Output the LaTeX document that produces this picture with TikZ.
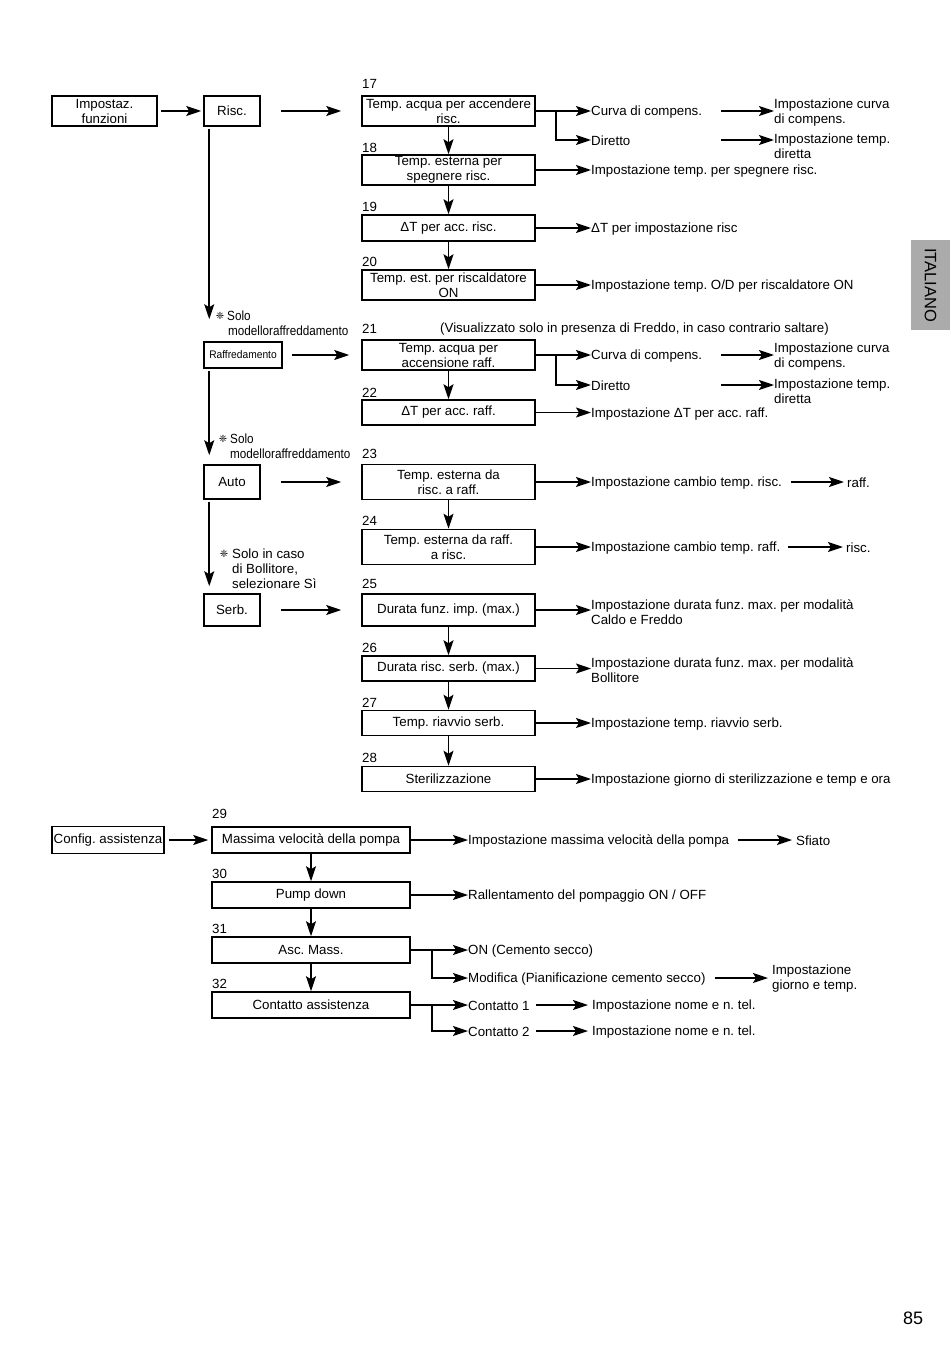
\documentclass[tikz,border=0pt]{standalone}
\usepackage{fontspec}
\setmainfont{Liberation Sans}
\newfontfamily\dejavu{DejaVu Sans}
\usetikzlibrary{arrows.meta}
\newcommand{\symb}{{\dejavu\fontsize{10}{10}\selectfont ❈}}
\newcommand{\narrow}[1]{\scalebox{0.88}[1]{#1}}
\begin{document}
\frenchspacing
\begin{tikzpicture}[x=1pt,y=-1pt,
  every node/.style={font=\fontsize{13.3}{15}\selectfont, inner sep=0pt},
  box/.style={draw, line width=1.5pt, align=center, minimum width=173pt, minimum height=30pt},
  txt/.style={anchor=west, align=left, yshift=-1.2pt},
  num/.style={anchor=west, yshift=-1pt},
  arr/.style={line width=1.8pt, -{Stealth[length=15pt,width=10pt,inset=3pt]}},
  tab/.style={fill=black!33, minimum width=90pt, minimum height=39pt, font=\fontsize{16.5}{18}\selectfont}]
\useasboundingbox (0,0) rectangle (950,1348);

% ---- left column
\node[box, minimum width=105, minimum height=30] (imp) at (104.5,111) {Impostaz.\\funzioni};
\node[box, minimum width=56, minimum height=30] (risc) at (232,111) {Risc.};
\node[box, minimum width=78, minimum height=26, font=\fontsize{11}{12}\selectfont] (raff) at (243,355) {\scalebox{0.93}[1]{Raffredamento}};
\node[box, minimum width=56, minimum height=34] (auto) at (232,482) {Auto};
\node[box, minimum width=56, minimum height=32] (serb) at (232,610) {Serb.};

% ---- heating boxes
\node[num] (n17) at (362,83) {17};
\node[box] (b17) at (448.5,111) {Temp. acqua per accendere\\risc.};
\node[num] (n18) at (362,147) {18};
\node[box] (b18) at (448.5,170) {Temp. esterna per\\spegnere risc.};
\node[num] (n19) at (362,206) {19};
\node[box, minimum height=26] (b19) at (448.5,228) {ΔT per acc. risc.};
\node[num] (n20) at (362,261) {20};
\node[box] (b20) at (448.5,285) {Temp. est. per riscaldatore\\ON};

% ---- cooling
\node[num] (n21) at (362,328) {21};
\node[txt] (note21) at (440,328) {(Visualizzato solo in presenza di Freddo, in caso contrario saltare)};
\node[box] (b21) at (448.5,355) {Temp. acqua per\\accensione raff.};
\node[num] (n22) at (362,392) {22};
\node[box, minimum height=25] (b22) at (448.5,412.5) {ΔT per acc. raff.};

% ---- auto
\node[num] (n23) at (362,453) {23};
\node[box, minimum height=35] (b23) at (448.5,482) {Temp. esterna da\\risc. a raff.};
\node[num] (n24) at (362,520) {24};
\node[box, minimum height=35] (b24) at (448.5,547) {Temp. esterna da raff.\\a risc.};

% ---- tank
\node[num] (n25) at (362,583) {25};
\node[box, minimum height=32] (b25) at (448.5,610) {Durata funz. imp. (max.)};
\node[num] (n26) at (362,647) {26};
\node[box, minimum height=25] (b26) at (448.5,668.5) {Durata risc. serb. (max.)};
\node[num] (n27) at (362,702) {27};
\node[box, minimum height=25] (b27) at (448.5,723) {Temp. riavvio serb.};
\node[num] (n28) at (362,757) {28};
\node[box, minimum height=25] (b28) at (448.5,779) {Sterilizzazione};

% ---- service
\node[box, minimum width=112, minimum height=27] (config) at (108,840) {Config. assistenza};
\node[num] (n29) at (212,813) {29};
\node[box, minimum width=198, minimum height=26] (b29) at (311,840) {Massima velocità della pompa};
\node[num] (n30) at (212,873) {30};
\node[box, minimum width=198, minimum height=26] (b30) at (311,895) {Pump down};
\node[num] (n31) at (212,928) {31};
\node[box, minimum width=198, minimum height=26] (b31) at (311,950) {Asc. Mass.};
\node[num] (n32) at (212,983) {32};
\node[box, minimum width=198, minimum height=26] (b32) at (311,1005) {Contatto assistenza};

% ---- right texts
\node[txt] (curva1) at (591,111) {Curva di compens.};
\node[txt] (dir1) at (591,140) {Diretto};
\node[txt] (impc1) at (774,111) {Impostazione curva\\di compens.};
\node[txt] (impd1) at (774,145) {Impostazione temp.\\diretta};
\node[txt] (t18) at (591,170) {Impostazione temp. per spegnere risc.};
\node[txt] (t19) at (591,228) {ΔT per impostazione risc};
\node[txt] (t20) at (591,285) {Impostazione temp. O/D per riscaldatore ON};
\node[txt] (curva2) at (591,355) {Curva di compens.};
\node[txt] (dir2) at (591,385) {Diretto};
\node[txt] (impc2) at (774,355.5) {Impostazione curva\\di compens.};
\node[txt] (impd2) at (774,390) {Impostazione temp.\\diretta};
\node[txt] (t22) at (591,412.5) {Impostazione ΔT per acc. raff.};
\node[txt] (t23) at (591,482) {Impostazione cambio temp. risc.};
\node[txt] (raff23) at (847,482) {raff.};
\node[txt] (t24) at (591,547) {Impostazione cambio temp. raff.};
\node[txt] (risc24) at (846,547) {risc.};
\node[txt] (t25) at (591,610.5) {Impostazione durata funz. max. per modalità\\Caldo e Freddo};
\node[txt] (t26) at (591,668.5) {Impostazione durata funz. max. per modalità\\Bollitore};
\node[txt] (t27) at (591,723) {Impostazione temp. riavvio serb.};
\node[txt] (t28) at (591,779) {Impostazione giorno di sterilizzazione e temp e ora};
\node[txt] (t29) at (468,840) {Impostazione massima velocità della pompa};
\node[txt] (sfiato) at (796,840) {Sfiato};
\node[txt] (t30) at (468,895) {Rallentamento del pompaggio ON / OFF};
\node[txt] (on31) at (468,950) {ON (Cemento secco)};
\node[txt] (mod31) at (468,978) {Modifica (Pianificazione cemento secco)};
\node[txt] (impg) at (772,977.5) {Impostazione\\giorno e temp.};
\node[txt] (c1) at (468,1005) {Contatto 1};
\node[txt] (impn1) at (592,1005) {Impostazione nome e n. tel.};
\node[txt] (c2) at (468,1031) {Contatto 2};
\node[txt] (impn2) at (592,1031) {Impostazione nome e n. tel.};

% ---- notes
\node (s1) at (220,316) {\symb};
\node[txt] (s1t) at (227,315) {\narrow{Solo}};
\node[txt] (s1m) at (228,330) {\narrow{modelloraffreddamento}};
\node (s2) at (223,439) {\symb};
\node[txt] (s2t) at (230,438) {\narrow{Solo}};
\node[txt] (s2m) at (230,453) {\narrow{modelloraffreddamento}};
\node (s3) at (224,554) {\symb};
\node[txt] (s3t) at (232,568) {Solo in caso\\di Bollitore,\\selezionare Sì};

% ---- tab and page number
\node[tab, rotate=-90] (tab) at (930.5,285) {ITALIANO};
\node[font=\fontsize{18}{20}\selectfont] (page) at (913,1318) {85};

% ---- connectors, left column
\draw[arr] ([xshift=3]imp.east) -- ([xshift=-2]risc.west);
\draw[arr] ([xshift=20]risc.east) -- ([xshift=-20]b17.west);
\draw[arr] ([xshift=9]raff.east) -- ([xshift=-12]b21.west);
\draw[arr] ([xshift=20]auto.east) -- ([xshift=-20]b23.west);
\draw[arr] ([xshift=20]serb.east) -- ([xshift=-20]b25.west);
\draw[arr] ([xshift=6,yshift=-2]risc.south west) -- ([xshift=6,yshift=22]raff.north west);
\draw[arr] ([xshift=6,yshift=-2]raff.south west) -- ([xshift=6,yshift=9]auto.north west);
\draw[arr] ([xshift=6,yshift=-2]auto.south west) -- ([xshift=6,yshift=7]serb.north west);
\draw[arr] ([xshift=4]config.east) -- ([xshift=-3]b29.west);

% ---- vertical chains
\draw[arr] (b17.south) -- (b18.north);
\draw[arr] (b18.south) -- (b19.north);
\draw[arr] (b19.south) -- (b20.north);
\draw[arr] (b21.south) -- (b22.north);
\draw[arr] (b23.south) -- (b24.north);
\draw[arr] (b25.south) -- (b26.north);
\draw[arr] (b26.south) -- (b27.north);
\draw[arr] (b27.south) -- (b28.north);
\draw[arr] (b29.south) -- (b30.north);
\draw[arr] (b30.south) -- (b31.north);
\draw[arr] (b31.south) -- (b32.north);

% ---- right connectors
\coordinate (e17) at (curva1.west |- b17.east);
\draw[arr] (b17.east) -- (e17);
\coordinate (ed1) at (dir1.west |- 0,140);
\draw[arr] ([xshift=20]b17.east) |- (ed1);
\coordinate (c1a) at (impc1.west |- b17.east);
\draw[arr] ([xshift=-53]c1a) -- (c1a);
\coordinate (d1) at (impd1.west |- ed1);
\draw[arr] ([xshift=-53]d1) -- (d1);
\coordinate (e18) at (t18.west |- b18.east);
\draw[arr] (b18.east) -- (e18);
\coordinate (e19) at (t19.west |- b19.east);
\draw[arr] (b19.east) -- (e19);
\coordinate (e20) at (t20.west |- b20.east);
\draw[arr] (b20.east) -- (e20);
\coordinate (e21) at (curva2.west |- b21.east);
\draw[arr] (b21.east) -- (e21);
\coordinate (ed2) at (dir2.west |- 0,385);
\draw[arr] ([xshift=20]b21.east) |- (ed2);
\coordinate (c2a) at (impc2.west |- b21.east);
\draw[arr] ([xshift=-53]c2a) -- (c2a);
\coordinate (d2) at (impd2.west |- ed2);
\draw[arr] ([xshift=-53]d2) -- (d2);
\coordinate (e22) at (t22.west |- b22.east);
\draw[arr] (b22.east) -- (e22);
\coordinate (e23) at (t23.west |- b23.east);
\draw[arr] (b23.east) -- (e23);
\coordinate (r23) at ([xshift=-3]raff23.west |- b23.east);
\draw[arr] ([xshift=-53]r23) -- (r23);
\coordinate (e24) at (t24.west |- b24.east);
\draw[arr] (b24.east) -- (e24);
\coordinate (r24) at ([xshift=-3]risc24.west |- b24.east);
\draw[arr] ([xshift=-55]r24) -- (r24);
\coordinate (e25) at (t25.west |- b25.east);
\draw[arr] (b25.east) -- (e25);
\coordinate (e26) at (t26.west |- b26.east);
\draw[arr] (b26.east) -- (e26);
\coordinate (e27) at (t27.west |- b27.east);
\draw[arr] (b27.east) -- (e27);
\coordinate (e28) at (t28.west |- b28.east);
\draw[arr] (b28.east) -- (e28);
\coordinate (e29) at (t29.west |- b29.east);
\draw[arr] (b29.east) -- (e29);
\coordinate (sf) at ([xshift=-4]sfiato.west |- b29.east);
\draw[arr] ([xshift=-54]sf) -- (sf);
\coordinate (e30) at (t30.west |- b30.east);
\draw[arr] (b30.east) -- (e30);
\coordinate (e31) at (on31.west |- b31.east);
\draw[arr] (b31.east) -- (e31);
\coordinate (em) at (mod31.west |- 0,978);
\draw[arr] ([xshift=21]b31.east) |- (em);
\coordinate (g) at ([xshift=-4]impg.west |- em);
\draw[arr] ([xshift=-53]g) -- (g);
\coordinate (e32) at (c1.west |- b32.east);
\draw[arr] (b32.east) -- (e32);
\coordinate (ec2) at (c2.west |- 0,1031);
\draw[arr] ([xshift=21]b32.east) |- (ec2);
\coordinate (n1) at ([xshift=-4]impn1.west |- b32.east);
\draw[arr] ([xshift=-52]n1) -- (n1);
\coordinate (n2) at ([xshift=-4]impn2.west |- ec2);
\draw[arr] ([xshift=-52]n2) -- (n2);
\end{tikzpicture}
\end{document}
